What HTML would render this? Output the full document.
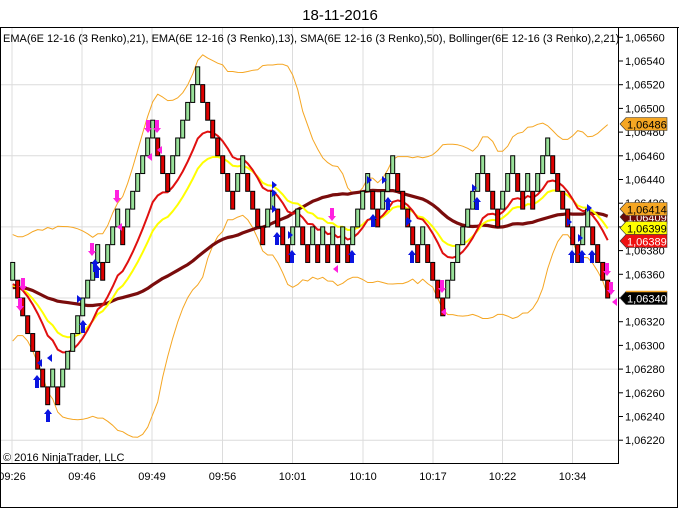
<!DOCTYPE html>
<html><head><meta charset="utf-8"><style>
html,body{margin:0;padding:0;background:#fff;width:679px;height:509px;overflow:hidden}
svg{display:block}
text{font-family:"Liberation Sans",Arial,sans-serif}
</style></head><body>
<svg id="s" width="679" height="509" viewBox="0 0 679 509" xmlns="http://www.w3.org/2000/svg">
<rect x="0" y="0" width="679" height="509" fill="#fff"/>
<text x="340" y="20" font-size="15" text-anchor="middle" fill="#000">18-11-2016</text>
<g id="grid"></g>
<g id="lines"></g>
<g id="bars"></g>
<g id="marks"></g>
<g id="axis"></g>
<text x="3" y="42" font-size="11" fill="#000">EMA(6E 12-16 (3 Renko),21), EMA(6E 12-16 (3 Renko),13), SMA(6E 12-16 (3 Renko),50), Bollinger(6E 12-16 (3 Renko),2,21)</text>
<text x="3" y="461" font-size="11" fill="#000">© 2016 NinjaTrader, LLC</text>
<line x1="0" y1="27.5" x2="679" y2="27.5" stroke="#000"/>
<line x1="0" y1="463.5" x2="618" y2="463.5" stroke="#000"/>
<line x1="618.5" y1="27" x2="618.5" y2="464" stroke="#000"/>
<line x1="677.5" y1="27" x2="677.5" y2="508" stroke="#000"/>
<line x1="0" y1="507.5" x2="678" y2="507.5" stroke="#000"/>
<line x1="0.5" y1="27" x2="0.5" y2="508" stroke="#000"/>
</svg>
<script>
var NS="http://www.w3.org/2000/svg";
function el(p,t,a,txt){var e=document.createElementNS(NS,t);for(var k in a)e.setAttribute(k,a[k]);if(txt!==undefined)e.textContent=txt;document.getElementById(p).appendChild(e);return e;}
function Y(v){return 298-v*17.78;}
function PY(p){return 298-(p-1.0634)/0.0002*23.7;}
// grid
var gx=[12,82,152,222.5,292.5,363,433,502.5,572.5];
gx.forEach(function(x){el("grid","line",{x1:x,y1:28,x2:x,y2:463,stroke:"#dcdcdc"});});
[1.0652,1.0646,1.0640,1.0634,1.0628,1.0622].forEach(function(p){var y=PY(p);el("grid","line",{x1:0,y1:y,x2:618,y2:y,stroke:"#dcdcdc"});});
// axis
for(var p=1.0656;p>1.06219;p-=0.0002){var y=PY(p);el("axis","line",{x1:618,y1:y,x2:623,y2:y,stroke:"#000"});
el("axis","text",{x:625,y:y+4,"font-size":11,fill:"#000"},p.toFixed(5).replace(".",","));}
var tl=["09:26","09:46","09:49","09:56","10:01","10:10","10:17","10:22","10:34"];
tl.forEach(function(t,i){el("axis","text",{x:gx[i],y:480,"font-size":11,"text-anchor":"middle",fill:"#000"},t);});
// bricks
var s="1G0R-1R-2R-3R-4R-5R-6R-5G-6R-5G-4G-3G-2G-1G0G1G2G1R2G3G4G3R4G5G6G7G8G9G8R7R6R7G8G9G10G11G12G11R10R9R8R7R6R5R6G7G6R5R4R"+
"3R4G5G4R3R2R3G4G3R2R3G2R3G2R3G2R3G2R3G4G5G6G5R4R5G6G7G6R5R4R3R2R"+
"3G2R1R0R-1R0G1G2G3G4G5G6G7G6R5R4R5G6G7G6R5R6G5R6G7G8G7R6R5R4R3R2R3G4G3R2R1R0R";
var re=/(-?\d+)([GR])/g,m,B=[];while(m=re.exec(s))B.push([+m[1],m[2]]);
var closes=[],hist=[-2,-1,0,1,2,3,2,1,0,-1];
for(var i=0;i<60;i++)closes.push(hist[i%10]);
var H=closes.length;
B.forEach(function(b){closes.push(b[1]=="G"?b[0]+1:b[0]);});
function X(i){return 12.7+i*5;}
// indicators
var e13=[],e21=[],s50=[],bu=[],bl=[],a13=closes[0],a21=closes[0];
for(var i=0;i<closes.length;i++){a13+= (closes[i]-a13)*2/14;a21+=(closes[i]-a21)*2/22;
var j=i-H;if(j<0)continue;
var n=0,sm=0;for(var k=Math.max(0,i-49);k<=i;k++){sm+=closes[k];n++;}
var sv=sm/n;var m21=0;for(var k=i-20;k<=i;k++)m21+=closes[k];m21/=21;var vv=0;for(var k=i-20;k<=i;k++)vv+=(closes[k]-m21)*(closes[k]-m21);var sd=Math.sqrt(vv/21);
e13.push([X(j),Y(a13)]);e21.push([X(j),Y(a21)]);s50.push([X(j),Y(sv)]);bu.push([X(j),Y(m21+2*sd)]);bl.push([X(j),Y(m21-2*sd)]);}
function pl(a,c,w){el("lines","polyline",{points:a.map(function(p){return p[0].toFixed(1)+","+p[1].toFixed(1)}).join(" "),fill:"none",stroke:c,"stroke-width":w,"stroke-linejoin":"round"});}
pl(bu,"#f5a623",1);pl(bl,"#f5a623",1);pl(s50,"#7a0c0c",3.2);pl(e21,"#ffff00",2);pl(e13,"#e01010",2);
// bars
B.forEach(function(b,i){var x=X(i);el("bars","rect",{x:x-2,y:Y(b[0]+1),width:4,height:17.78,fill:b[1]=="G"?"#98e098":"#dd0000",stroke:"#000","stroke-width":1});});
// markers
function up(x,y,c){el("marks","path",{d:"M"+x+","+(y-8)+" l4,5 h-2 v8 h-4 v-8 h-2z",fill:c});}
function dn(x,y,c){el("marks","path",{d:"M"+x+","+(y+8)+" l4,-5 h-2 v-8 h-4 v8 h-2z",fill:c});}
function tl_(x,y,c){el("marks","path",{d:"M"+(x-3)+","+y+" l5,-4 v8z",fill:c});}
function tr(x,y,c){el("marks","path",{d:"M"+(x+3)+","+y+" l-5,-4 v8z",fill:c});}
var BL="#0a14e0",MG="#ff20e0";
[[37,383],[48,417],[83,328],[97,273],[95,267],[277,240],[292,258],[352,258],[373,222],[388,205],[412,258],[477,205],[572,258],[582,258],[592,258]].forEach(function(p){up(p[0],p[1],BL);});
[[40,363],[50,358]].forEach(function(p){tl_(p[0],p[1],BL);});
[[79,299],[274,185],[274,193],[274,209],[290,235],[369,180],[384,180],[409,221],[408,222],[474,188],[569,222],[580,238],[589,208]].forEach(function(p){tr(p[0],p[1],BL);});
[[23,283],[20,303],[148,125],[157,125],[117,195],[92,248],[332,213],[442,285],[607,268],[611,287]].forEach(function(p){dn(p[0],p[1],MG);});
[[150,157],[160,150],[120,227],[336,269],[444,312],[615,302]].forEach(function(p){tl_(p[0],p[1],MG);});
// price tags
function tag(y,bg,fg,t){el("axis","path",{d:"M620,"+y+" l6,-6.5 h41 v13 h-41z",fill:bg,stroke:"#333","stroke-width":0.6});el("axis","text",{x:627,y:y+4.5,"font-size":11,fill:fg},t);}
tag(124,"#f5a623","#000","1,06486");
tag(217,"#6b0a0a","#fff","1,06409");
tag(209,"#f5a623","#000","1,06414");
tag(228,"#ffff00","#000","1,06399");
tag(241,"#ee1111","#fff","1,06389");
tag(298,"#000","#fff","1,06340");
el("axis","line",{x1:626,y1:291.5,x2:667,y2:291.5,stroke:"#f5a623","stroke-width":1.5});
</script>
</body></html>
